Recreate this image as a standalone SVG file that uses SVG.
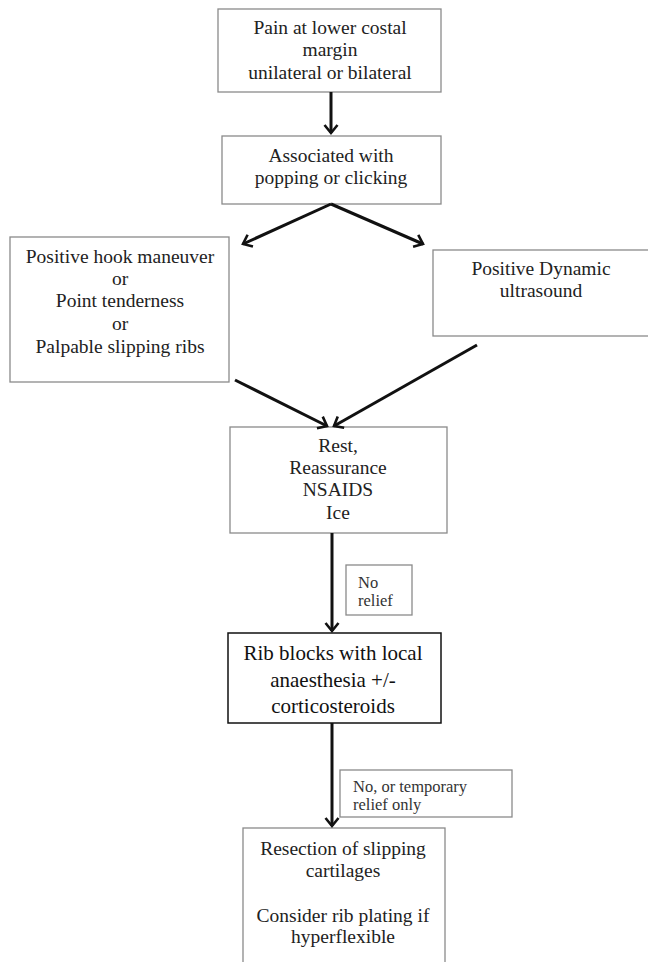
<svg xmlns="http://www.w3.org/2000/svg" width="648" height="962" viewBox="0 0 648 962">
<style>
.box{fill:#fff;stroke:#8a8a8a;stroke-width:1.3}
.boxd{fill:#fff;stroke:#111;stroke-width:1.5}
.t{font-family:"Liberation Serif","Times New Roman",serif;font-size:19.5px;fill:#222;text-anchor:middle}
.tb{font-family:"Liberation Serif","Times New Roman",serif;font-size:21px;fill:#111;text-anchor:middle}
.ts{font-family:"Liberation Serif","Times New Roman",serif;font-size:16.5px;fill:#333}
.c{stroke:#111;stroke-width:3;fill:none}
</style>
<defs>
<marker id="ah" markerUnits="userSpaceOnUse" markerWidth="20" markerHeight="20" viewBox="-10 -10 20 20" refX="0" refY="0" orient="auto" overflow="visible">
<path d="M-8,-6.5 L0,0 L-8,6.5" fill="none" stroke="#111" stroke-width="2.6"/>
</marker>
</defs>
<rect width="648" height="962" fill="#fff"/>
<g id="n1">
<rect class="box" x="218" y="9" width="223" height="83"/>
<text class="t" x="330" y="34">Pain at lower costal</text>
<text class="t" x="330" y="56">margin</text>
<text class="t" x="330" y="79">unilateral or bilateral</text>
</g>
<g id="n2">
<rect class="box" x="222" y="136" width="219" height="68"/>
<text class="t" x="331" y="162">Associated with</text>
<text class="t" x="331" y="184">popping or clicking</text>
</g>
<g id="n3">
<rect class="box" x="10" y="237" width="219" height="145"/>
<text class="t" x="120" y="263">Positive hook maneuver</text>
<text class="t" x="120" y="285">or</text>
<text class="t" x="120" y="307">Point tenderness</text>
<text class="t" x="120" y="330">or</text>
<text class="t" x="120" y="353">Palpable slipping ribs</text>
</g>
<g id="n4">
<rect class="box" x="433" y="250" width="220" height="86"/>
<text class="t" x="541" y="275">Positive Dynamic</text>
<text class="t" x="541" y="297">ultrasound</text>
</g>
<g id="n5">
<rect class="box" x="230" y="427" width="217" height="106"/>
<text class="t" x="338" y="452">Rest,</text>
<text class="t" x="338" y="474">Reassurance</text>
<text class="t" x="338" y="496">NSAIDS</text>
<text class="t" x="338" y="519">Ice</text>
</g>
<g id="l1">
<rect class="box" x="346" y="565" width="66" height="50"/>
<text class="ts" x="358" y="588">No</text>
<text class="ts" x="358" y="606">relief</text>
</g>
<g id="n6">
<rect class="boxd" x="228" y="633" width="213" height="90"/>
<text class="tb" x="333" y="660">Rib blocks with local</text>
<text class="tb" x="333" y="687">anaesthesia +/-</text>
<text class="tb" x="333" y="713">corticosteroids</text>
</g>
<g id="l2">
<rect class="box" x="340" y="770" width="172" height="47"/>
<text class="ts" x="353" y="792">No, or temporary</text>
<text class="ts" x="353" y="810">relief only</text>
</g>
<g id="n7">
<rect class="box" x="243" y="828" width="202" height="145"/>
<text class="t" x="343" y="855">Resection of slipping</text>
<text class="t" x="343" y="877">cartilages</text>
<text class="t" x="343" y="922">Consider rib plating if</text>
<text class="t" x="343" y="943">hyperflexible</text>
</g>
<g id="connectors">
<line class="c" x1="331" y1="92" x2="331" y2="133" marker-end="url(#ah)"/>
<line class="c" x1="331" y1="204" x2="243" y2="244" marker-end="url(#ah)"/>
<line class="c" x1="331" y1="204" x2="423" y2="244" marker-end="url(#ah)"/>
<line class="c" x1="235" y1="380" x2="327" y2="426" marker-end="url(#ah)"/>
<line class="c" x1="477" y1="345" x2="334" y2="426" marker-end="url(#ah)"/>
<line class="c" x1="332" y1="533" x2="332" y2="631" marker-end="url(#ah)"/>
<line class="c" x1="332" y1="723" x2="332" y2="826" marker-end="url(#ah)"/>
</g>
</svg>
